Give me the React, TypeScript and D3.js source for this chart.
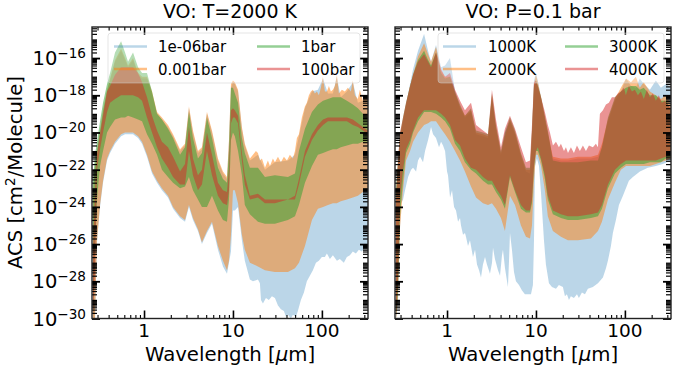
import React, { useEffect, useRef } from 'react';
import * as d3 from 'd3';

const width = 676;
const height = 371;
const font = '"DejaVu Sans", sans-serif';

// Wavelength grid [um], shared by every band
const wavelengths = [
  0.267, 0.281, 0.296, 0.32, 0.346, 0.384, 0.415, 0.472, 0.552, 0.612,
  0.661, 0.752, 0.857, 0.95, 1.08, 1.23, 1.4, 1.59, 1.86, 2.12,
  2.54, 2.89, 3.2, 3.55, 4.04, 4.48, 5.1, 5.81, 6.78, 7.72,
  8.57, 9.02, 9.5, 10, 10.5, 11.4, 12.6, 13.6, 15.5, 19.1,
  22.9, 29.6, 41.5, 49.8, 55.2, 64.5, 77.3, 90.2, 103, 117,
  133, 147, 163, 191, 223, 254, 289, 329,
];

// Left panel, T=2000 K: log10 of the cross section, envelope per pressure
const p1e6High = [
  -23.2, -21.9, -21.0, -20.0, -18.9, -17.8, -17.2, -16.2, -15.6, -16.1,
  -16.5, -16.1, -16.9, -17.1, -17.1, -17.9, -19.0, -19.3, -19.7, -20.2,
  -21.0, -20.7, -18.7, -20.0, -21.1, -20.9, -19.0, -20.0, -21.5, -22.2,
  -22.5, -20.5, -17.6, -17.3, -17.4, -17.8, -19.8, -20.7, -21.5, -21.2,
  -22.0, -21.6, -21.5, -21.2, -20.2, -18.7, -17.8, -17.7, -17.1, -17.9,
  -17.9, -17.0, -18.1, -17.8, -17.3, -18.4, -18.3, -18.4,
];
const p1e6Low = [
  -30, -30, -25.9, -24.0, -22.7, -21.5, -21.1, -20.6, -20.2, -20.1,
  -20.1, -20.1, -20.3, -20.6, -21.3, -22.2, -22.7, -23.1, -23.5, -24.1,
  -24.6, -24.8, -24.0, -24.7, -25.3, -26.0, -25.4, -24.9, -26.3, -27.2,
  -27.6, -27.0, -26.4, -24.2, -24.2, -24.0, -25.8, -26.9, -27.9, -28.0,
  -29.0, -28.9, -29.8, -29.7, -29.5, -28.3, -27.5, -27.0, -26.8, -26.6,
  -26.8, -26.9, -26.8, -26.7, -26.4, -26.3, -26.3, -26.2,
];
const p1e3High = [
  -23.1, -21.8, -21.0, -19.9, -18.8, -17.7, -17.1, -16.1, -15.5, -16.0,
  -16.4, -16.0, -16.8, -17.0, -17.0, -17.8, -18.9, -19.2, -19.6, -20.1,
  -20.9, -20.6, -18.6, -19.9, -21.0, -20.8, -18.9, -19.9, -21.4, -22.1,
  -22.4, -20.4, -17.4, -17.2, -17.3, -17.7, -19.7, -20.6, -21.4, -21.1,
  -21.9, -21.5, -21.4, -21.1, -20.1, -18.6, -17.7, -17.6, -17.0, -17.8,
  -17.8, -16.9, -18.0, -18.0, -17.2, -18.3, -18.5, -18.3,
];
const p1e3Low = [
  -30, -30, -25.8, -23.9, -22.6, -21.4, -21.0, -20.5, -20.1, -20.0,
  -20.0, -20.0, -20.2, -20.5, -21.2, -22.1, -22.6, -23.0, -23.4, -24.0,
  -24.5, -24.7, -23.9, -24.6, -25.2, -25.9, -25.3, -24.8, -26.1, -26.9,
  -27.4, -26.9, -25.5, -23.1, -23.1, -23.8, -25.5, -26.3, -27.0, -27.2,
  -27.4, -27.5, -27.5, -27.3, -27.0, -26.1, -24.7, -24.1, -24.0, -23.9,
  -23.8, -23.8, -23.7, -23.6, -23.5, -23.4, -23.2, -23.1,
];
const p1High = [
  -22.6, -21.2, -20.5, -19.4, -18.4, -17.4, -16.8, -15.7, -15.1, -15.7,
  -16.2, -15.7, -16.5, -16.8, -16.8, -17.8, -19.0, -19.3, -19.8, -20.3,
  -21.2, -20.8, -18.9, -20.3, -21.4, -21.1, -19.2, -20.3, -21.9, -22.5,
  -22.7, -21.0, -17.6, -17.6, -17.9, -18.4, -20.3, -21.1, -21.9, -21.9,
  -22.4, -22.3, -22.4, -22.2, -21.0, -19.8, -18.9, -18.5, -18.3, -18.2,
  -18.1, -18.1, -18.1, -18.3, -18.5, -18.7, -19.0, -19.2,
];
const p1Low = [
  -30, -26.3, -23.6, -21.8, -21.0, -20.0, -19.7, -19.3, -19.2, -19.2,
  -19.1, -19.2, -19.3, -19.4, -20.1, -20.6, -21.2, -22.0, -22.4, -22.7,
  -23.0, -22.9, -22.4, -23.1, -23.6, -24.0, -24.0, -23.4, -24.2, -24.7,
  -24.8, -23.6, -20.4, -20.0, -20.2, -21.0, -22.3, -23.9, -24.4, -24.8,
  -24.9, -24.9, -24.7, -24.5, -23.9, -22.7, -21.8, -21.2, -21.1, -21.0,
  -20.9, -20.9, -20.8, -20.7, -20.6, -20.6, -20.5, -20.5,
];
const p100High = [
  -26.3, -23.1, -21.2, -20.1, -19.1, -17.8, -17.5, -16.9, -16.5, -16.5,
  -16.5, -16.5, -16.8, -17.3, -18.1, -19.1, -19.9, -20.5, -20.8, -21.3,
  -22.1, -21.7, -19.7, -21.4, -22.3, -22.0, -20.0, -21.2, -22.7, -23.1,
  -23.2, -22.0, -18.8, -18.7, -18.8, -19.1, -21.1, -22.3, -23.4, -23.3,
  -23.6, -23.6, -23.6, -23.4, -22.5, -21.0, -20.1, -19.6, -19.3, -19.2,
  -19.2, -19.2, -19.2, -19.2, -19.3, -19.5, -19.7, -19.9,
];
const p100Low = [
  -30, -27.5, -22.0, -20.9, -20.0, -18.9, -18.4, -18.2, -18.0, -18.0,
  -18.0, -18.0, -18.1, -18.3, -19.2, -20.0, -20.8, -21.4, -21.9, -22.4,
  -22.8, -22.8, -21.0, -22.3, -23.1, -22.8, -21.0, -22.3, -23.4, -23.8,
  -23.9, -23.1, -19.5, -19.2, -19.2, -19.5, -21.5, -22.8, -23.6, -23.5,
  -23.8, -23.8, -23.6, -23.6, -22.8, -21.3, -20.4, -19.9, -19.6, -19.4,
  -19.4, -19.4, -19.4, -19.4, -19.6, -19.7, -19.9, -20.1,
];

// Right panel, P=0.1 bar: log10 of the cross section, envelope per temperature
const t1000High = [
  -23.2, -21.7, -20.3, -19.4, -18.5, -17.4, -16.6, -15.6, -14.7, -15.6,
  -16.2, -15.3, -16.5, -16.4, -16.0, -17.8, -18.7, -19.2, -18.9, -20.1,
  -20.2, -20.3, -18.1, -19.8, -21.2, -20.0, -19.4, -20.1, -21.3, -22.1,
  -22.2, -20.0, -17.2, -16.8, -17.2, -18.1, -19.3, -20.1, -21.4, -21.5,
  -21.5, -21.4, -21.4, -21.3, -20.8, -19.4, -18.3, -17.8, -17.1, -17.5,
  -17.6, -17.1, -17.4, -17.7, -17.2, -17.6, -17.4, -17.6,
];
const t2000High = [
  -23.1, -21.6, -20.2, -19.3, -18.5, -17.5, -16.9, -15.9, -15.2, -15.8,
  -16.2, -15.4, -16.7, -17.0, -17.0, -17.9, -18.6, -19.1, -18.8, -20.0,
  -20.1, -20.2, -18.0, -19.7, -21.1, -20.2, -19.3, -20.0, -21.2, -22.0,
  -22.0, -20.0, -17.4, -16.9, -17.3, -18.1, -19.2, -20.0, -21.3, -21.4,
  -21.4, -21.3, -21.3, -21.2, -20.6, -19.3, -18.2, -17.6, -17.1, -17.3,
  -17.0, -17.6, -17.3, -17.8, -18.0, -18.2, -18.0, -18.5,
];
const t2000Low = [
  -30, -29.0, -25.1, -23.1, -21.5, -21.0, -20.5, -20.0, -19.6, -19.5,
  -19.4, -19.4, -19.8, -20.1, -20.5, -21.0, -21.5, -22.1, -22.9, -23.5,
  -23.8, -23.9, -23.8, -24.1, -24.6, -25.3, -23.4, -23.9, -25.0, -25.6,
  -25.7, -25.0, -22.6, -21.2, -21.2, -21.8, -23.1, -24.5, -25.3, -25.6,
  -25.8, -25.8, -25.7, -25.3, -24.8, -23.6, -22.7, -22.0, -21.8, -21.8,
  -21.8, -21.8, -21.8, -21.8, -21.7, -21.6, -21.5, -21.4,
];
const t3000High = [
  -23.1, -21.5, -20.1, -19.2, -18.4, -17.5, -16.9, -16.1, -15.6, -16.1,
  -16.4, -15.7, -16.8, -17.1, -17.0, -17.8, -18.5, -19.1, -18.7, -19.9,
  -20.0, -20.1, -17.9, -19.6, -21.0, -20.0, -19.2, -19.9, -21.1, -21.9,
  -21.9, -19.9, -17.5, -17.2, -17.5, -18.1, -19.1, -19.9, -21.5, -21.6,
  -21.6, -21.6, -21.5, -21.5, -20.8, -19.2, -18.1, -17.8, -17.6, -17.5,
  -17.5, -17.7, -17.6, -18.0, -18.0, -18.3, -18.3, -18.8,
];
const t3000Low = [
  -30, -28.5, -24.5, -22.6, -21.1, -20.6, -20.0, -19.4, -18.9, -18.9,
  -18.9, -19.0, -19.2, -19.4, -19.8, -20.6, -21.0, -21.6, -22.0, -22.2,
  -22.6, -22.8, -22.8, -23.2, -23.6, -24.1, -22.4, -23.2, -24.1, -24.3,
  -24.3, -23.8, -21.9, -21.0, -21.0, -21.5, -22.5, -23.6, -24.4, -24.6,
  -24.7, -24.7, -24.6, -24.5, -24.1, -23.0, -22.2, -21.9, -21.7, -21.7,
  -21.7, -21.7, -21.7, -21.6, -21.6, -21.6, -21.4, -21.3,
];
const t4000High = [
  -23.6, -21.5, -20.0, -19.2, -18.4, -17.5, -16.9, -16.2, -15.8, -16.2,
  -16.5, -15.7, -16.6, -17.0, -16.8, -17.7, -18.3, -18.8, -18.4, -19.6,
  -19.9, -20.1, -17.7, -19.3, -20.8, -19.8, -19.1, -19.8, -20.8, -21.6,
  -21.5, -19.6, -17.3, -17.2, -17.5, -18.1, -18.9, -19.6, -20.7, -20.8,
  -21.2, -21.0, -20.8, -20.8, -18.9, -18.4, -18.0, -17.8, -17.6, -17.5,
  -17.7, -17.8, -17.9, -18.1, -18.3, -18.3, -18.4, -18.7,
];
const t4000Low = [
  -30, -27.9, -23.6, -22.0, -20.9, -20.4, -19.9, -19.2, -18.8, -18.8,
  -18.8, -18.8, -19.0, -19.2, -19.6, -20.4, -20.7, -21.4, -21.9, -22.0,
  -22.4, -22.6, -22.6, -23.0, -23.4, -23.9, -22.3, -23.1, -23.9, -24.2,
  -24.2, -23.6, -21.8, -21.0, -20.8, -21.4, -22.3, -23.4, -24.2, -24.4,
  -24.5, -24.5, -24.4, -24.3, -23.9, -22.8, -22.0, -21.7, -21.5, -21.5,
  -21.5, -21.5, -21.5, -21.5, -21.5, -21.4, -21.3, -21.2,
];

// Spikier edges read more closely: [log10 wavelength, log10 cross section]
const t1000LowSpiky = [
  [-0.573, -30], [-0.551, -29], [-0.539, -26.3], [-0.528, -25.1], [-0.517, -23.8], [-0.494, -23.6], [-0.472, -23.1], [-0.438, -22.4],
  [-0.404, -22], [-0.382, -21.9], [-0.348, -22.1], [-0.326, -21.5], [-0.303, -21.3], [-0.27, -21.6], [-0.247, -21], [-0.213, -20.4],
  [-0.18, -19.7], [-0.157, -20.1], [-0.124, -20.3], [-0.09, -20.8], [-0.067, -20.5], [-0.045, -20.7], [-0.022, -21], [0, -22.1],
  [0.011, -22.3], [0.034, -23.5], [0.056, -23.1], [0.079, -24], [0.101, -24.2], [0.124, -24.8], [0.146, -24.6], [0.157, -25],
  [0.18, -25.5], [0.202, -25.4], [0.213, -25.6], [0.236, -26.1], [0.258, -25.8], [0.292, -26.7], [0.315, -26.3], [0.337, -27.1],
  [0.36, -27.4], [0.382, -27.8], [0.404, -27.1], [0.427, -26.7], [0.449, -27.1], [0.483, -27.6], [0.506, -27], [0.517, -26.2],
  [0.539, -26.8], [0.573, -27.4], [0.596, -27.7], [0.618, -26.6], [0.629, -26.3], [0.652, -27.3], [0.685, -28.3], [0.697, -26.9],
  [0.708, -25.4], [0.73, -26.3], [0.753, -27.5], [0.775, -28], [0.809, -28.2], [0.843, -28.5], [0.876, -28.7], [0.91, -28.7],
  [0.944, -28.7], [0.966, -28.2], [0.978, -25.8], [0.989, -21.8], [1.011, -21.4], [1.034, -21.8], [1.056, -23.2], [1.09, -25.8],
  [1.112, -27.1], [1.146, -28.1], [1.18, -28.3], [1.225, -28.4], [1.258, -28.2], [1.303, -28.3], [1.326, -28.8], [1.348, -28.7],
  [1.371, -29], [1.393, -28.8], [1.427, -28.9], [1.461, -28.7], [1.483, -28.9], [1.517, -28.6], [1.551, -28.7], [1.584, -28.4],
  [1.64, -28.3], [1.697, -28.1], [1.753, -27.8], [1.787, -27.3], [1.809, -26.9], [1.843, -26.1], [1.865, -25.4], [1.899, -24.7],
  [1.933, -23.9], [1.978, -23.4], [2.045, -22.6], [2.09, -22.4], [2.169, -22.1], [2.258, -21.9], [2.348, -21.8], [2.427, -21.7],
  [2.517, -21.5],
];
const t4000HighSpiky = [
  [1.157, -20], [1.191, -20.7], [1.225, -20.5], [1.258, -20.8], [1.281, -20.6], [1.315, -21], [1.337, -20.8], [1.36, -21.1],
  [1.393, -20.8], [1.427, -21.1], [1.461, -20.7], [1.494, -21], [1.528, -20.7], [1.562, -21], [1.596, -20.7], [1.64, -20.8],
  [1.674, -20.6], [1.697, -20.8], [1.708, -19.9], [1.719, -19], [1.753, -18.8], [1.787, -18.5], [1.82, -18.4], [1.854, -18.1],
  [1.888, -18.1], [1.921, -17.9], [1.955, -17.8], [1.989, -17.6], [2.011, -18], [2.045, -17.5], [2.079, -17.8], [2.112, -17.7],
  [2.146, -18], [2.18, -17.8], [2.213, -18.2], [2.247, -17.7], [2.281, -18.1], [2.315, -17.9], [2.348, -18.3], [2.382, -18],
  [2.416, -18.4], [2.449, -18.3], [2.483, -18.5], [2.517, -18.7],
];
const p1e6LowSpiky = [
  [1.191, -27.9], [1.225, -28], [1.281, -27.9], [1.303, -28.1], [1.315, -29], [1.337, -29.2], [1.371, -28.9], [1.404, -29],
  [1.438, -28.8], [1.472, -28.9], [1.506, -29.3], [1.539, -29.5], [1.573, -29.6], [1.596, -29.9], [1.618, -29.8], [1.652, -30],
  [1.674, -29.8], [1.708, -29.9], [1.73, -29.6], [1.764, -29], [1.798, -28.6], [1.831, -28], [1.865, -27.7], [1.899, -27.4],
  [1.933, -27], [1.966, -26.9], [2, -26.7], [2.034, -26.7], [2.056, -26.5], [2.09, -26.8], [2.124, -26.6], [2.169, -26.9],
  [2.202, -26.8], [2.247, -27], [2.281, -26.7], [2.315, -26.6], [2.348, -26.4], [2.382, -26.5], [2.416, -26.3], [2.449, -26.4],
  [2.483, -26.2], [2.517, -26.2],
];
const p1e3HighSpiky = [
  [1.191, -21.4], [1.225, -21.2], [1.258, -21], [1.281, -21.1], [1.303, -21.5], [1.326, -21.4], [1.36, -21.9], [1.393, -21.5],
  [1.416, -21.8], [1.449, -21.4], [1.472, -21.6], [1.506, -21.3], [1.539, -21.6], [1.573, -21.3], [1.607, -21.5], [1.64, -21.2],
  [1.674, -21.4], [1.697, -21], [1.719, -20.3], [1.742, -20.1], [1.775, -19.2], [1.809, -18.6], [1.831, -18.4], [1.854, -18],
  [1.876, -17.8], [1.899, -17.7], [1.921, -17.9], [1.944, -17.8], [1.966, -18], [1.989, -17.6], [2.011, -17], [2.034, -17.8],
  [2.056, -17.8], [2.079, -17.5], [2.101, -17.8], [2.124, -17.7], [2.146, -17.5], [2.169, -16.9], [2.191, -17.9], [2.225, -17.7],
  [2.258, -17.8], [2.292, -17.6], [2.326, -17.8], [2.348, -17.2], [2.371, -18], [2.404, -18.2], [2.427, -17.7], [2.461, -18.3],
  [2.494, -18], [2.517, -18.3],
];

const bandColors = ['#1f77b4', '#ff7f0e', '#2ca02c', '#d62728'];
const bandAlphas = [0.3, 0.5, 0.5, 0.5];

const pressureLabels = ['1e-06bar', '0.001bar', '1bar', '100bar'];
const temperatureLabels = ['1000K', '2000K', '3000K', '4000K'];

const xMajor = [1, 10, 100];
const yMajor = [-30, -28, -26, -24, -22, -20, -18, -16];
const logMin = -30;
const logMax = -14.33;
const xDomain: [number, number] = [0.26, 330];

type Spiky = number[][];

// grid values up to where the closer reading starts, then the closer reading
const edgePoints = (values: number[], spiky: Spiky = []): Spiky => {
  const start = spiky.length ? 10 ** spiky[0][0] : Infinity;
  const coarse = wavelengths
    .map((w, i) => [w, values[i]])
    .filter(d => d[0] < start - 0.001);
  return coarse.concat(spiky.map(d => [10 ** d[0], d[1]]));
};

const panels = [
  {
    title: 'VO: T=2000 K',
    left: 92,
    labels: pressureLabels,
    bands: [
      [edgePoints(p1e6Low, p1e6LowSpiky), edgePoints(p1e6High)],
      [edgePoints(p1e3Low), edgePoints(p1e3High, p1e3HighSpiky)],
      [edgePoints(p1Low), edgePoints(p1High)],
      [edgePoints(p100Low), edgePoints(p100High)],
    ],
    legend: { x0: 108, x1: 360, handles: [114, 257], text: [158, 301] },
  },
  {
    title: 'VO: P=0.1 bar',
    left: 395,
    labels: temperatureLabels,
    bands: [
      [edgePoints([], t1000LowSpiky), edgePoints(t1000High)],
      [edgePoints(t2000Low), edgePoints(t2000High)],
      [edgePoints(t3000Low), edgePoints(t3000High)],
      [edgePoints(t4000Low), edgePoints(t4000High, t4000HighSpiky)],
    ],
    legend: { x0: 438, x1: 664, handles: [443, 565], text: [488, 609] },
  },
];

const panelWidth = 276;
const top = 27;
const bottom = 318.5;

const App = () => {
  const svgRef = useRef<SVGSVGElement>(null);

  useEffect(() => {
    const svg = d3.select(svgRef.current);
    svg.selectAll('*').remove();
    svg.style('font-family', font);

    const yScale = d3.scaleLog().domain([10 ** logMin, 10 ** logMax]).range([bottom, top]);

    // minor ticks: 2..9 in every decade that falls in the axis range
    const xMinor: number[] = [];
    d3.range(-1, 3).forEach(e => d3.range(2, 10).forEach(m => {
      const v = m * 10 ** e;
      if (v > xDomain[0] && v < xDomain[1]) xMinor.push(v);
    }));
    const yMinor: number[] = [];
    d3.range(logMin, Math.ceil(logMax)).forEach(e => d3.range(1, 10).forEach(m => {
      const v = m * 10 ** e;
      if ((!yMajor.includes(e) || m > 1) && v <= 10 ** logMax) yMinor.push(v);
    }));

    panels.forEach((panel, p) => {
      const xScale = d3.scaleLog().domain(xDomain).range([panel.left, panel.left + panelWidth]);
      const g = svg.append('g');
      const clipId = `clip-${p}`;

      g.append('clipPath').attr('id', clipId).append('rect')
        .attr('x', panel.left).attr('y', top)
        .attr('width', panelWidth).attr('height', bottom - top);

      const outline = d3.line<number[]>()
        .x(d => xScale(d[0]))
        .y(d => yScale(10 ** d[1]));

      // Bands: upper edge left to right, lower edge back
      panel.bands.forEach(([low, high], i) => {
        g.append('path')
          .attr('clip-path', `url(#${clipId})`)
          .attr('fill', bandColors[i])
          .attr('fill-opacity', bandAlphas[i])
          .attr('d', outline(high.concat([...low].reverse())) + 'Z');
      });

      // Ticks on all four sides, pointing in
      const tickGroup = (axis: any, tx: number, ty: number, vals: number[], size: number, w: number) => {
        const a = g.append('g')
          .attr('transform', `translate(${tx},${ty})`)
          .call(axis.tickValues(vals).tickSize(size).tickSizeOuter(0).tickFormat(() => ''));
        a.select('.domain').remove();
        a.selectAll('line').attr('stroke', '#000').attr('stroke-width', w);
      };
      tickGroup(d3.axisBottom(xScale), 0, bottom, xMinor, -3.5, 1.1);
      tickGroup(d3.axisTop(xScale), 0, top, xMinor, -3.5, 1.1);
      tickGroup(d3.axisBottom(xScale), 0, bottom, xMajor, -8, 1.6);
      tickGroup(d3.axisTop(xScale), 0, top, xMajor, -8, 1.6);
      tickGroup(d3.axisLeft(yScale), panel.left, 0, yMinor, -5, 1.2);
      tickGroup(d3.axisRight(yScale), panel.left + panelWidth, 0, yMinor, -5, 1.2);
      const yMajorVals = yMajor.map(e => 10 ** e);
      tickGroup(d3.axisLeft(yScale), panel.left, 0, yMajorVals, -8, 1.8);
      tickGroup(d3.axisRight(yScale), panel.left + panelWidth, 0, yMajorVals, -8, 1.8);

      // Spines
      g.append('rect')
        .attr('x', panel.left).attr('y', top)
        .attr('width', panelWidth).attr('height', bottom - top)
        .attr('fill', 'none').attr('stroke', '#222').attr('stroke-width', 1.4);

      // x tick labels
      xMajor.forEach(v => {
        g.append('text')
          .attr('x', xScale(v)).attr('y', 337)
          .attr('text-anchor', 'middle').attr('font-size', 18.5)
          .text(v);
      });

      // y tick labels only on the first panel
      if (p === 0) {
        yMajor.forEach(e => {
          const t = g.append('text')
            .attr('x', 86).attr('y', yScale(10 ** e) + 7)
            .attr('text-anchor', 'end').attr('font-size', 19.5);
          t.append('tspan').text('10');
          t.append('tspan').attr('dy', -7).attr('font-size', 13.6).text(`\u2212${Math.abs(e)}`);
        });
      }

      g.append('text')
        .attr('x', panel.left + panelWidth / 2).attr('y', 18)
        .attr('text-anchor', 'middle').attr('font-size', 19)
        .text(panel.title);

      const xl = g.append('text')
        .attr('x', panel.left + panelWidth / 2).attr('y', 361)
        .attr('text-anchor', 'middle').attr('font-size', 19.7);
      xl.append('tspan').text('Wavelength [');
      xl.append('tspan').attr('font-style', 'italic').text('\u03bc');
      xl.append('tspan').text('m]');

      // Legend
      const lg = g.append('g');
      lg.append('rect')
        .attr('x', panel.legend.x0).attr('y', 33)
        .attr('width', panel.legend.x1 - panel.legend.x0).attr('height', 50)
        .attr('rx', 3)
        .attr('fill', '#fff').attr('fill-opacity', 0.3)
        .attr('stroke', '#ccc').attr('stroke-opacity', 0.5).attr('stroke-width', 1);
      panel.labels.forEach((label, i) => {
        const col = Math.floor(i / 2);
        const yPos = i % 2 === 0 ? 46.5 : 69;
        lg.append('line')
          .attr('x1', panel.legend.handles[col]).attr('x2', panel.legend.handles[col] + 33)
          .attr('y1', yPos).attr('y2', yPos)
          .attr('stroke', bandColors[i]).attr('stroke-opacity', bandAlphas[i])
          .attr('stroke-width', 2.6);
        lg.append('text')
          .attr('x', panel.legend.text[col]).attr('y', yPos + 5.5)
          .attr('font-size', 15)
          .text(label);
      });
    });

    const yl = svg.append('text')
      .attr('transform', 'translate(22,172.5) rotate(-90)')
      .attr('text-anchor', 'middle').attr('font-size', 19.6);
    yl.append('tspan').text('ACS [cm');
    yl.append('tspan').attr('dy', -7).attr('font-size', 13.7).text('2');
    yl.append('tspan').attr('dy', 7).text('/Molecule]');
  }, []);

  return (
    <svg ref={svgRef} width={width} height={height}
      style={{ position: 'absolute', left: 0, top: 0, background: '#fff' }} />
  );
};

export default App;
